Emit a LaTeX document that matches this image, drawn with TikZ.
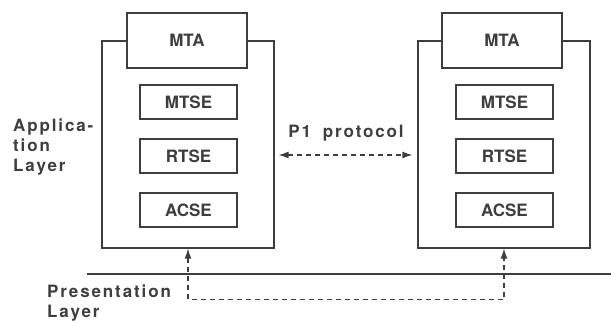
\documentclass[tikz,border=0pt]{standalone}
\usepackage{fontspec}
\setmainfont{TeX Gyre Heros}
\newfontfamily\spacedfont[LetterSpace=11]{TeX Gyre Heros}
\usetikzlibrary{positioning, arrows.meta}
\definecolor{inkGray}{RGB}{62,62,62}

\begin{document}
\begin{tikzpicture}[
			x=1pt, y=-1pt,
			outerbox/.style={
				draw=inkGray,
				line width=1.2pt,
				minimum width=172pt,
				minimum height=207pt,
				inner sep=0pt
			},
			mtabox/.style={
				draw=inkGray,
				line width=2pt,
				fill=white,
				minimum width=120pt,
				minimum height=55pt,
				font=\fontsize{17}{20}\selectfont\bfseries,
				text=inkGray
			},
			entitybox/.style={
				draw=inkGray,
				line width=2pt,
				minimum width=97pt,
				minimum height=34pt,
				font=\fontsize{17}{20}\selectfont\bfseries,
				text=inkGray
			},
			layerlabel/.style={
				align=left,
				anchor=west,
				inner sep=0pt,
				font=\fontsize{17}{20}\spacedfont\bfseries,
				text=inkGray
			},
			dashedarrow/.style={
				draw=inkGray,
				line width=1.2pt,
				dash pattern=on 5pt off 4pt,
				{Latex[length=10pt,width=7pt]}-{Latex[length=10pt,width=7pt]}
			}
			]
			\useasboundingbox (0,0) rectangle (611,323);
			
			% Left system
			\node[outerbox] (lbox) at (188,144.5) {};
			\node[mtabox] (lmta) at (187,40.5) {MTA};
			\node[entitybox] (lmtse) at (188.5,102.5) {MTSE};
			\node[entitybox, below=18pt of lmtse] (lrtse) {RTSE};
			\node[entitybox, below=18pt of lrtse] (lacse) {ACSE};
			
			% Right system
			\node[outerbox] (rbox) at (504,144.5) {};
			\node[mtabox] (rmta) at (502,40.5) {MTA};
			\node[entitybox] (rmtse) at (504.5,102.5) {MTSE};
			\node[entitybox, below=18pt of rmtse] (rrtse) {RTSE};
			\node[entitybox, below=18pt of rrtse] (racse) {ACSE};
			
			% Layer boundary
			\coordinate (lineL) at (87,274);
			\coordinate (lineR) at (611,274);
			\draw[inkGray, line width=1.2pt] (lineL) -- (lineR);
			
			% Layer labels
			\node[layerlabel] (applabel) at (13,147) {Applica-\\tion\\Layer};
			\node[layerlabel] (preslabel) at (47,303) {Presentation\\Layer};
			
			% P1 protocol
			\node[font=\fontsize{17}{20}\spacedfont\bfseries, text=inkGray] (ptext) at (346,133) {P1\hspace{12pt}protocol};
			\draw[dashedarrow, shorten <=4pt, shorten >=5pt]
				([yshift=-10.5pt]lbox.east) -- ([yshift=-10.5pt]rbox.west);
			
			% Presentation path
			\coordinate (pbot) at (188,299.5);
			\draw[dashedarrow] (lbox.south) -- (pbot) -| (rbox.south);
			
		\end{tikzpicture}
\end{document}
